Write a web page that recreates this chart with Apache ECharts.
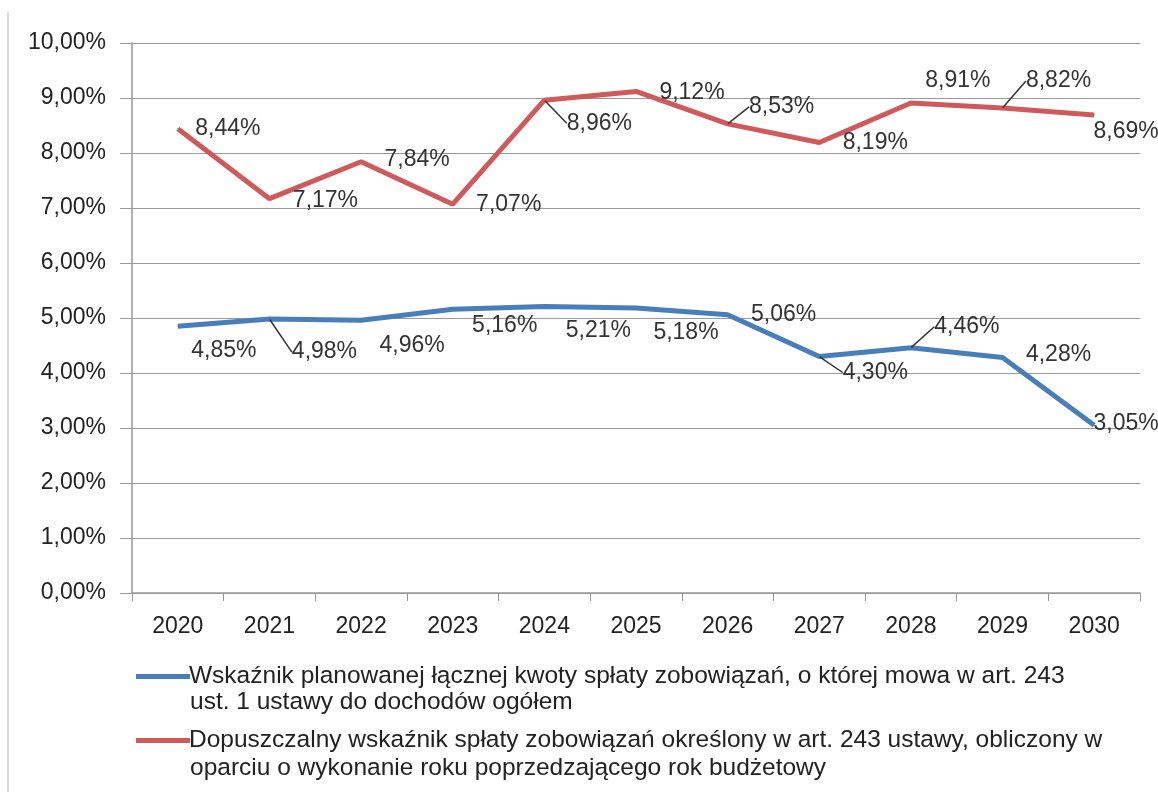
<!DOCTYPE html>
<html>
<head>
<meta charset="UTF-8">
<title>Wskaźnik spłaty zobowiązań</title>
<style type="text/css">
html, body {
	margin: 0;
	padding: 0;
	background: #ffffff;
}
#chart {
	width: 1158px;
	height: 792px;
}
</style>
</head>
<body>
	<div id="chart"></div>
</body>
<script type="text/javascript" src="https://cdn.jsdelivr.net/npm/echarts@6/dist/echarts.min.js"></script>
<script type="text/javascript">
	// lata
	var years = [ "2020", "2021", "2022", "2023", "2024", "2025", "2026", "2027", "2028", "2029", "2030" ];
	// wskaźnik planowany (niebieski)
	var planValues = [ 4.85, 4.98, 4.96, 5.16, 5.21, 5.18, 5.06, 4.30, 4.46, 4.28, 3.05 ];
	// wskaźnik dopuszczalny (czerwony)
	var limitValues = [ 8.44, 7.17, 7.84, 7.07, 8.96, 9.12, 8.53, 8.19, 8.91, 8.82, 8.69 ];

	var planName = "Wskaźnik planowanej łącznej kwoty spłaty zobowiązań, o której mowa w art. 243 ust. 1 ustawy do dochodów ogółem";
	var limitName = "Dopuszczalny wskaźnik spłaty zobowiązań określony w art. 243 ustawy, obliczony w oparciu o wykonanie roku poprzedzającego rok budżetowy";

	// przesunięcia etykiet względem punktu [dx, dy]
	var planOffsets = [ [46, 24], [55, 33], [51, 25], [52, 16], [54, 24], [50, 25], [56, 0], [56, 16], [56, -21], [56, -3], [32, -2] ];
	var limitOffsets = [ [50, 0], [56, 2], [56, -2], [56, 1], [55, 23], [56, 1], [54, -17], [56, 0], [47, -22], [56, -27], [32, 17] ];
	// które etykiety mają linię odniesienia
	var planLeader = [ 1, 7, 8 ];
	var limitLeader = [ 4, 6, 9 ];

	var blue = '#4a7ebb';
	var red = '#cf5a5c';
	var font = 'Liberation Sans';

	function fmt(v) {
		return v.toFixed(2).replace('.', ',') + '%';
	}

	function buildData(values, leaders) {
		var arr = [];
		for (var i = 0; i < values.length; i++) {
			var obj = { value : values[i] };
			if (leaders.indexOf(i) >= 0) {
				obj.labelLine = { show : true };
			}
			arr.push(obj);
		}
		return arr;
	}

	function makeLayout(offsets) {
		return function(params) {
			var o = offsets[params.dataIndex];
			return { dx : o[0], dy : o[1] };
		};
	}

	var chart = echarts.init(document.getElementById('chart'));

	var legendText = { fontFamily : font, fontSize : 24.5, color : '#222', padding : [0, 0, 0, -6] };

	var option = {
		backgroundColor : '#ffffff',
		animation : false,
		grid : {
			left : 132,
			right : 18,
			top : 43,
			bottom : 199
		},
		legend : [ {
			left : 131,
			top : 659,
			data : [ planName ],
			icon : 'rect',
			itemWidth : 54,
			itemHeight : 5,
			formatter : function() {
				return 'Wskaźnik planowanej łącznej kwoty spłaty zobowiązań, o której mowa w art. 243';
			},
			textStyle : legendText
		}, {
			left : 131,
			top : 723,
			data : [ limitName ],
			icon : 'rect',
			itemWidth : 54,
			itemHeight : 5,
			formatter : function() {
				return 'Dopuszczalny wskaźnik spłaty zobowiązań określony w art. 243 ustawy, obliczony w';
			},
			textStyle : legendText
		} ],
		graphic : [ {
			type : 'text',
			left : 190,
			top : 690,
			style : { text : 'ust. 1 ustawy do dochodów ogółem', font : '24.5px "Liberation Sans"', fill : '#222' }
		}, {
			type : 'text',
			left : 190,
			top : 756,
			style : { text : 'oparciu o wykonanie roku poprzedzającego rok budżetowy', font : '24.5px "Liberation Sans"', fill : '#222' }
		}, {
			type : 'line',
			shape : { x1 : 8, y1 : 12, x2 : 8, y2 : 792 },
			style : { stroke : '#bbb', lineWidth : 1 }
		} ],
		xAxis : {
			type : 'category',
			data : years,
			boundaryGap : true,
			axisLine : { lineStyle : { color : '#999', width : 1.5 } },
			axisTick : { show : true, length : 8, lineStyle : { color : '#999' } },
			axisLabel : { fontFamily : font, fontSize : 23, color : '#222', margin : 22 }
		},
		yAxis : {
			type : 'value',
			min : 0,
			max : 10,
			interval : 1,
			axisLine : { show : true, lineStyle : { color : '#999', width : 1.5 } },
			axisTick : { show : true, length : 12, lineStyle : { color : '#999' } },
			splitLine : { lineStyle : { color : '#999', width : 1.2 } },
			axisLabel : {
				fontFamily : font,
				fontSize : 23,
				color : '#222',
				margin : 26,
				formatter : fmt
			}
		},
		series : [ {
			name : planName,
			type : 'line',
			data : buildData(planValues, planLeader),
			color : blue,
			lineStyle : { width : 5, color : blue },
			symbol : 'circle',
			symbolSize : 1,
			showSymbol : true,
			itemStyle : { color : blue },
			label : {
				show : true,
				position : 'inside',
				fontFamily : font,
				fontSize : 23,
				color : '#333',
				formatter : function(p) { return fmt(p.value); }
			},
			labelLine : { lineStyle : { color : '#333', width : 1.5 } },
			labelLayout : makeLayout(planOffsets)
		}, {
			name : limitName,
			type : 'line',
			data : buildData(limitValues, limitLeader),
			color : red,
			lineStyle : { width : 5, color : red },
			symbol : 'circle',
			symbolSize : 1,
			showSymbol : true,
			itemStyle : { color : red },
			label : {
				show : true,
				position : 'inside',
				fontFamily : font,
				fontSize : 23,
				color : '#333',
				formatter : function(p) { return fmt(p.value); }
			},
			labelLine : { lineStyle : { color : '#333', width : 1.5 } },
			labelLayout : makeLayout(limitOffsets)
		} ]
	};

	chart.setOption(option);
</script>
</html>
